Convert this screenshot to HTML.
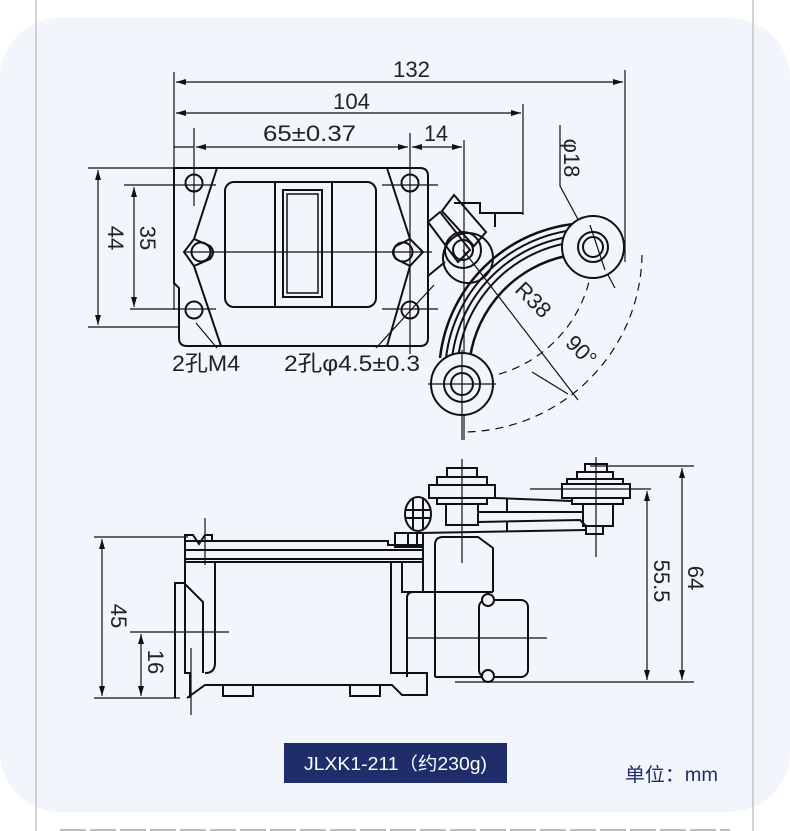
<!DOCTYPE html>
<html><head><meta charset="utf-8"><style>
html,body{margin:0;padding:0;background:#fff;}
body{width:790px;height:831px;position:relative;overflow:hidden;}
.panel{position:absolute;left:0;top:18px;width:790px;height:794px;background:#f2f5fb;border-radius:60px;}
svg{position:absolute;left:0;top:0;}
text{font-family:"Liberation Sans","Noto Sans CJK SC",sans-serif;fill:#222;}
</style></head><body>
<div class="panel"></div>
<svg width="790" height="831" viewBox="0 0 790 831">
<defs><marker id="a" viewBox="0 0 10 6" refX="10" refY="3" markerWidth="10" markerHeight="6" orient="auto-start-reverse" markerUnits="userSpaceOnUse"><path d="M0,0L10,3L0,6z" fill="#111"/></marker></defs>
<line x1="36" y1="0" x2="36" y2="831" stroke="#aaa" stroke-width="1"/>
<line x1="753" y1="0" x2="753" y2="831" stroke="#aaa" stroke-width="1"/>
<line x1="60" y1="830" x2="730" y2="830" stroke="#bbb" stroke-width="2" stroke-dasharray="26,4"/>

<g stroke="#111" fill="none" stroke-width="1.2">
<line x1="174" y1="72" x2="174" y2="310"/>
<line x1="625" y1="70" x2="625" y2="262"/>
<line x1="523" y1="104" x2="523" y2="215"/>
<line x1="194" y1="128" x2="194" y2="206"/>
<line x1="410" y1="133" x2="410" y2="354"/>
<line x1="464" y1="140" x2="464" y2="440"/>
<line x1="176" y1="82" x2="623" y2="82" marker-start="url(#a)" marker-end="url(#a)"/>
<line x1="176" y1="113" x2="521" y2="113" marker-start="url(#a)" marker-end="url(#a)"/>
<line x1="174" y1="147" x2="194" y2="147"/>
<line x1="196" y1="147" x2="408" y2="147" marker-start="url(#a)" marker-end="url(#a)"/>
<line x1="412" y1="147" x2="462" y2="147" marker-start="url(#a)" marker-end="url(#a)"/>
<line x1="88" y1="168" x2="174" y2="168"/>
<line x1="88" y1="327" x2="178" y2="327"/>
<line x1="98" y1="170" x2="98" y2="325" marker-start="url(#a)" marker-end="url(#a)"/>
<line x1="124" y1="185" x2="216" y2="185"/>
<line x1="130" y1="309" x2="216" y2="309"/>
<line x1="134" y1="187" x2="134" y2="307" marker-start="url(#a)" marker-end="url(#a)"/>
<line x1="382" y1="185" x2="438" y2="185"/>
<line x1="382" y1="309" x2="438" y2="309"/>
<line x1="184" y1="252" x2="432" y2="252"/>
<line x1="196" y1="323" x2="217" y2="348"/>
<line x1="434" y1="285" x2="376" y2="348"/>
<line x1="560" y1="125" x2="560" y2="186"/>
<line x1="560" y1="186" x2="615" y2="288"/>
<line x1="463" y1="250" x2="578" y2="400"/>
<line x1="532" y1="372" x2="568" y2="394"/>
</g>
<g stroke="#111" fill="none" stroke-width="1.2" stroke-dasharray="8,6">
<path d="M593,255 A130,130 0 0 1 470,379"/>
<path d="M642,255 A180,180 0 0 1 464,432"/>
</g>

<g stroke="#111" fill="none" stroke-width="2">
<path d="M174,168 H420 Q428,168 428,176 V338 Q428,346 420,346 H187 Q179,346 179,338 V288 L174,283 Z"/>
<path d="M217,168 L194,239 L184,252 L194,266 L221,346"/>
<path d="M194,239 L210,246 Q216,252 210,259 L194,266"/>
<path d="M387,168 L410,239 L423,252 L410,266 L387,346"/>
<path d="M410,239 L396,246 Q390,252 396,259 L410,266"/>
<rect x="225" y="182" width="151" height="125" rx="9"/>
<line x1="275" y1="182" x2="275" y2="307"/>
<line x1="332" y1="182" x2="332" y2="307"/>
<rect x="283" y="190" width="39" height="107"/>
<rect x="287" y="194" width="31" height="99" stroke-width="1.5"/>
<circle cx="194" cy="183" r="8.5"/><circle cx="201" cy="252" r="9.5"/><circle cx="194" cy="310" r="8.5"/>
<circle cx="410" cy="183" r="8.5"/><circle cx="403" cy="252" r="9.5"/><circle cx="410" cy="310" r="8.5"/>
<path d="M454,203 H480 V213 H523"/>
<line x1="495" y1="213" x2="495" y2="227"/>
<path d="M442,211 L454,195 L486,232 L474,246 Z"/>
<path d="M428,222 L440,212 L470,250 L458,262 Z"/>
<path d="M428,276 L445,262"/>
<circle cx="468" cy="258" r="25"/>
<circle cx="463" cy="250" r="18"/><circle cx="463" cy="250" r="10"/>
<path d="M440,358 A152,152 0 0 1 590,223" stroke-width="2.5"/>
<path d="M446,358 A146,146 0 0 1 590,229"/>
<path d="M452,358 A140,140 0 0 1 590,235"/>
<path d="M458,358 A134,134 0 0 1 590,241"/>
<path d="M470,358 A122,122 0 0 1 566,256" stroke-width="2.5"/>
<circle cx="593" cy="247" r="31" fill="#f2f5fb"/>
<circle cx="593" cy="247" r="15"/><circle cx="593" cy="247" r="10"/>
<circle cx="462" cy="384" r="31" fill="#f2f5fb"/>
<circle cx="462" cy="384" r="18"/><circle cx="462" cy="384" r="11"/>
</g>
<g stroke="#111" stroke-width="1.2">
<line x1="462" y1="350" x2="462" y2="440"/>
<line x1="428" y1="384" x2="496" y2="384"/>
<line x1="590" y1="225" x2="605" y2="270"/>
</g>

<g stroke="#111" fill="none" stroke-width="1.2">
<line x1="94" y1="537" x2="188" y2="537"/>
<line x1="94" y1="698" x2="180" y2="698"/>
<line x1="102" y1="539" x2="102" y2="696" marker-start="url(#a)" marker-end="url(#a)"/>
<line x1="130" y1="632" x2="229" y2="632"/>
<line x1="141" y1="634" x2="141" y2="696" marker-start="url(#a)" marker-end="url(#a)"/>
<line x1="205" y1="518" x2="205" y2="565"/>
<line x1="191" y1="648" x2="191" y2="715"/>
<line x1="590" y1="466" x2="694" y2="466"/>
<line x1="455" y1="682" x2="694" y2="682"/>
<line x1="530" y1="489" x2="651" y2="489"/>
<line x1="647" y1="491" x2="647" y2="680" marker-start="url(#a)" marker-end="url(#a)"/>
<line x1="682" y1="468" x2="682" y2="680" marker-start="url(#a)" marker-end="url(#a)"/>
<line x1="462" y1="459" x2="462" y2="563"/>
<line x1="596" y1="457" x2="596" y2="557"/>
<line x1="408" y1="638" x2="547" y2="638"/>
</g>
<g stroke="#111" fill="none" stroke-width="2">
<path d="M185,541 V535 L193,535 L199,544 L205,535 L212,535 V541"/>
<path d="M185,541 H388 V545 H423 V562 H185 Z"/>
<line x1="185" y1="550" x2="423" y2="550"/>
<line x1="185" y1="559" x2="423" y2="559"/>
<path d="M185,562 V673 L190,673 V698"/>
<path d="M215,562 V663 Q215,673 205,673"/>
<path d="M175,698 V583 H184 L203,602 V673"/>
<path d="M187,698 L205,685 H392 L402,695 H427 V673 H391 V562"/>
<rect x="223" y="685" width="30" height="11"/>
<rect x="350" y="685" width="30" height="11"/>
<rect x="402" y="562" width="21" height="30"/>
<path d="M407,677 V598 Q407,592 413,592 H493"/>
<path d="M435,677 V545 Q435,537 443,537 H478 L493,548 V592"/>
<line x1="435" y1="677" x2="488" y2="677"/>
<rect x="479" y="600" width="49" height="77" rx="7"/>
<circle cx="488" cy="600" r="6" fill="#f2f5fb"/>
<circle cx="488" cy="676" r="6" fill="#f2f5fb"/>
<rect x="395" y="533" width="28" height="14"/>
<line x1="408" y1="533" x2="408" y2="547"/><line x1="417" y1="533" x2="417" y2="547"/>
<ellipse cx="418" cy="514" rx="13" ry="17"/>
<line x1="413" y1="498" x2="413" y2="530"/><line x1="423" y1="498" x2="423" y2="530"/>
<line x1="405" y1="510" x2="431" y2="510"/><line x1="405" y1="518" x2="431" y2="518"/>
<rect x="447" y="468" width="30" height="9"/>
<rect x="437" y="477" width="50" height="8"/>
<rect x="429" y="485" width="66" height="13"/>
<rect x="437" y="498" width="50" height="6"/>
<rect x="446" y="504" width="32" height="21"/>
<rect x="585" y="464" width="22" height="8"/>
<rect x="577" y="472" width="36" height="7"/>
<rect x="567" y="479" width="56" height="5"/>
<rect x="562" y="484" width="68" height="14"/>
<rect x="572" y="498" width="51" height="6"/>
<rect x="583" y="504" width="30" height="22"/>
<rect x="586" y="526" width="17" height="8"/>
<path d="M495,498 L572,501"/>
<path d="M478,512 H583"/>
<line x1="507" y1="498" x2="507" y2="512"/>
<path d="M478,522 L580,520 L586,526"/>
<path d="M420,533 L586,530"/>
<line x1="507" y1="522" x2="507" y2="532"/>
</g>

<g font-size="22">
<text x="393" y="77" textLength="37" lengthAdjust="spacingAndGlyphs">132</text>
<text x="333" y="109" textLength="37" lengthAdjust="spacingAndGlyphs">104</text>
<text x="263" y="141" textLength="93" lengthAdjust="spacingAndGlyphs">65±0.37</text>
<text x="424" y="141" textLength="24" lengthAdjust="spacingAndGlyphs">14</text>
<text x="172" y="371" textLength="68" lengthAdjust="spacingAndGlyphs">2孔M4</text>
<text x="284" y="371" textLength="136" lengthAdjust="spacingAndGlyphs">2孔φ4.5±0.3</text>
<text transform="translate(108,238) rotate(90)" text-anchor="middle">44</text>
<text transform="translate(140,238) rotate(90)" text-anchor="middle">35</text>
<text transform="translate(564,158) rotate(90)" text-anchor="middle">φ18</text>
<text transform="translate(528,305) rotate(45)" text-anchor="middle">R38</text>
<text transform="translate(576,356) rotate(45)" text-anchor="middle">90°</text>
<text transform="translate(111,616) rotate(90)" text-anchor="middle">45</text>
<text transform="translate(148,662) rotate(90)" text-anchor="middle">16</text>
<text transform="translate(654,581) rotate(90)" text-anchor="middle">55.5</text>
<text transform="translate(688,578) rotate(90)" text-anchor="middle">64</text>
</g>
<rect x="284" y="743" width="223" height="40" fill="#1f2e6b"/>
<text x="304" y="770" font-size="18" textLength="183" lengthAdjust="spacingAndGlyphs" style="fill:#fff">JLXK1-211（约230g)</text>
<text x="625" y="781" font-size="19" textLength="93" lengthAdjust="spacingAndGlyphs" style="fill:#1f2e6b">单位：mm</text>
</svg>
</body></html>
